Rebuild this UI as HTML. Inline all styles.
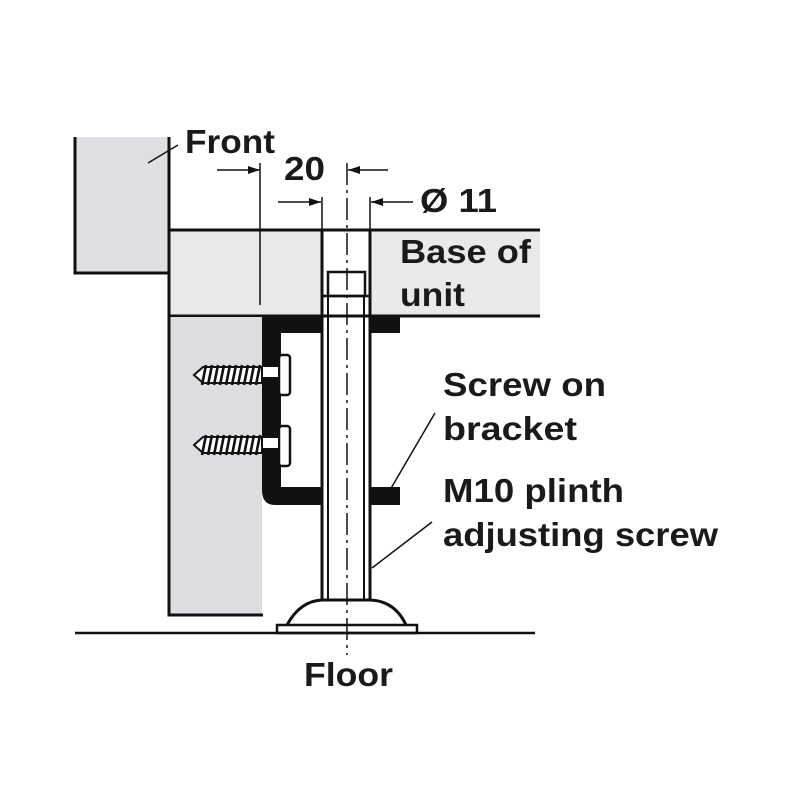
<!DOCTYPE html>
<html><head><style>
html,body{margin:0;padding:0;background:#fff}
svg text{font-family:"Liberation Sans",Arial,sans-serif;font-weight:bold;fill:#1a1a1a}
</style></head><body>
<svg width="800" height="800" viewBox="0 0 800 800" xmlns="http://www.w3.org/2000/svg">
<defs>
<marker id="ar" viewBox="0 0 12 8" refX="12" refY="4" markerWidth="12" markerHeight="8" markerUnits="userSpaceOnUse" orient="auto"><path d="M0,0 L12,4 L0,8 z" fill="#111"/></marker>
</defs>
<rect x="74" y="137" width="95" height="136" fill="#dedfe2"/>
<path d="M75,137 V273 H169" fill="none" stroke="#111" stroke-width="3"/>
<rect x="169" y="230" width="371" height="87" fill="#e9e9ea"/>
<rect x="323" y="230" width="47" height="87" fill="#fff"/>
<line x1="169" y1="230" x2="540" y2="230" stroke="#111" stroke-width="3"/>
<line x1="169" y1="316" x2="540" y2="316" stroke="#111" stroke-width="3"/>
<rect x="169" y="317" width="93" height="298" fill="#dcdde0"/>
<path d="M169,137 V615 H263" fill="none" stroke="#111" stroke-width="3"/>
<path d="M262,317 H322 V333 H281 V487 H322 V505 H275 Q262,505 262,490 Z" fill="#111"/>
<rect x="370" y="317" width="30" height="16" fill="#111"/>
<rect x="370" y="487" width="30" height="18" fill="#111"/>
<rect x="279" y="355" width="11" height="40" rx="3" fill="#fff" stroke="#111" stroke-width="2.5"/>
<rect x="279" y="426" width="11" height="40" rx="3" fill="#fff" stroke="#111" stroke-width="2.5"/>
<rect x="262" y="367" width="16" height="10" fill="#fff"/>
<rect x="262" y="438" width="16" height="10" fill="#fff"/>
<g stroke="#111" stroke-width="2" fill="#fff">
<path d="M194,375 L203,367 H262 V383 H203 Z"/>
<path d="M194,445 L203,437 H262 V453 H203 Z"/>
</g>
<g stroke="#111" stroke-width="2.6">
<path d="M206,365 l-4,20 M212,365 l-4,20 M218,365 l-4,20 M224,365 l-4,20 M230,365 l-4,20 M236,365 l-4,20 M242,365 l-4,20 M248,365 l-4,20 M254,365 l-4,20 M260,365 l-4,20"/>
<path d="M206,435 l-4,20 M212,435 l-4,20 M218,435 l-4,20 M224,435 l-4,20 M230,435 l-4,20 M236,435 l-4,20 M242,435 l-4,20 M248,435 l-4,20 M254,435 l-4,20 M260,435 l-4,20"/>
</g>
<line x1="322" y1="230" x2="322" y2="600" stroke="#111" stroke-width="3"/>
<line x1="370" y1="230" x2="370" y2="600" stroke="#111" stroke-width="3"/>
<line x1="328" y1="296" x2="328" y2="600" stroke="#111" stroke-width="2"/>
<line x1="364" y1="296" x2="364" y2="600" stroke="#111" stroke-width="2"/>
<rect x="328" y="272" width="37" height="24" fill="none" stroke="#111" stroke-width="2.5"/>
<line x1="322" y1="296" x2="370" y2="296" stroke="#111" stroke-width="2.5"/>
<path d="M287,625 Q300,601 322,600 H370 Q395,601 406,625" fill="#fff" stroke="#111" stroke-width="3"/>
<rect x="277" y="625" width="140" height="8" fill="#fff" stroke="#111" stroke-width="2.5"/>
<line x1="75" y1="633" x2="535" y2="633" stroke="#111" stroke-width="2.5"/>
<line x1="347" y1="163" x2="347" y2="655" stroke="#111" stroke-width="1.5" stroke-dasharray="22,5,3,5"/>
<g stroke="#111" stroke-width="1.5">
<line x1="260" y1="163" x2="260" y2="305"/>
<line x1="322" y1="197" x2="322" y2="230"/>
<line x1="370" y1="197" x2="370" y2="230"/>
<line x1="217" y1="170" x2="260" y2="170" marker-end="url(#ar)"/>
<line x1="388" y1="170" x2="348" y2="170" marker-end="url(#ar)"/>
<line x1="278" y1="202" x2="321" y2="202" marker-end="url(#ar)"/>
<line x1="413" y1="202" x2="371" y2="202" marker-end="url(#ar)"/>
<line x1="148" y1="163" x2="178" y2="145"/>
<line x1="435" y1="413" x2="390" y2="490"/>
<line x1="432" y1="522" x2="372" y2="568"/>
</g>
<g font-size="33">
<text x="185" y="153" textLength="90" lengthAdjust="spacingAndGlyphs">Front</text>
<text x="284" y="180" textLength="41" lengthAdjust="spacingAndGlyphs">20</text>
<text x="420" y="212" textLength="77" lengthAdjust="spacingAndGlyphs">Ø 11</text>
<text x="400" y="263" textLength="131" lengthAdjust="spacingAndGlyphs">Base of</text>
<text x="400" y="306" textLength="65" lengthAdjust="spacingAndGlyphs">unit</text>
<text x="443" y="396" textLength="163" lengthAdjust="spacingAndGlyphs">Screw on</text>
<text x="443" y="440" textLength="134" lengthAdjust="spacingAndGlyphs">bracket</text>
<text x="443" y="502" textLength="181" lengthAdjust="spacingAndGlyphs">M10 plinth</text>
<text x="443" y="546" textLength="275" lengthAdjust="spacingAndGlyphs">adjusting screw</text>
<text x="304" y="686" textLength="89" lengthAdjust="spacingAndGlyphs">Floor</text>
</g>
</svg>
</body></html>
